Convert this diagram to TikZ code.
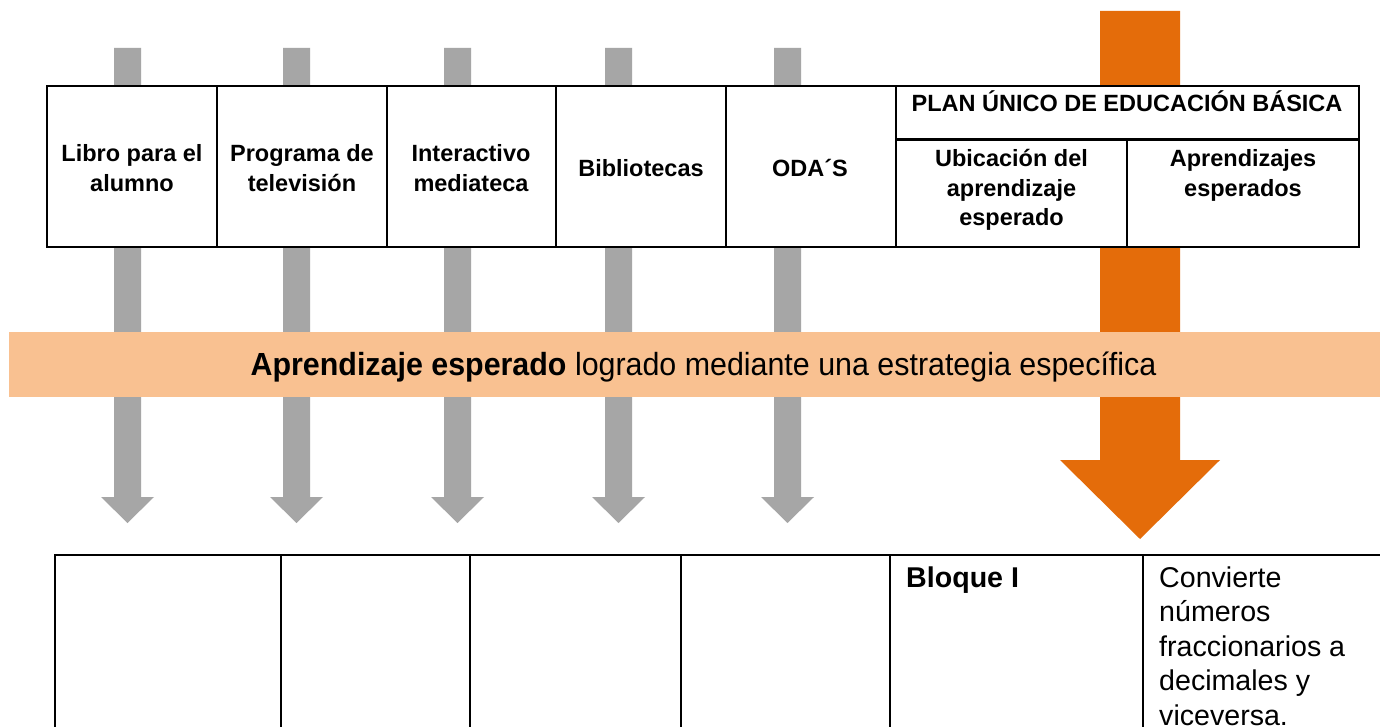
\documentclass[tikz,border=0pt]{standalone}
\usepackage{fontspec}
\setmainfont{Liberation Sans}
\definecolor{arrowgray}{HTML}{A6A6A6}
\definecolor{arroworange}{HTML}{E46C0A}
\definecolor{bandfill}{HTML}{F9C191}
\tikzset{
  grayarrow/.style={fill=arrowgray},
  orangearrow/.style={fill=arroworange},
  tableline/.style={line width=2.5pt, draw=black, line cap=rect},
  hdrtext/.style={font=\fontsize{23.5}{30.5}\selectfont\bfseries, inner sep=0pt, anchor=base},
  subtext/.style={font=\fontsize{23.5}{29.5}\selectfont\bfseries, inner sep=0pt, anchor=base},
  bodytext/.style={font=\fontsize{28.6}{34.5}\selectfont, inner sep=0pt, anchor=base west},
  bandtext/.style={font=\fontsize{32}{38}\selectfont, inner sep=0pt, anchor=base}
}
\begin{document}
\begin{tikzpicture}[x=1pt,y=-1pt]
\useasboundingbox (0,0) rectangle (1380,727);
\fill[white] (0,0) rectangle (1380,727);

% gray arrows
\foreach \c in {127.5,296.5,457.5,618.5,787.5}
  \fill[grayarrow] ({\c-13.5},48) -- ({\c+13.5},48) -- ({\c+13.5},497) -- ({\c+26.5},497)
     -- (\c,523) -- ({\c-26.5},497) -- ({\c-13.5},497) -- cycle;

% orange arrow
\fill[orangearrow] (1100,11) -- (1180,11) -- (1180,460) -- (1220,460) -- (1140,539)
     -- (1060,460) -- (1100,460) -- cycle;

% top table
\filldraw[tableline, fill=white] (47,86) rectangle (1359,247);
\foreach \xx in {217,387,556,726,896}
  \draw[tableline] (\xx,86) -- (\xx,247);
\draw[tableline] (896,139.5) -- (1359,139.5);
\draw[tableline] (1127,139.5) -- (1127,247);

\node[hdrtext] (libro) at (132,161.5) {\begin{tabular}[t]{@{}c@{}}Libro para el\\alumno\end{tabular}};
\node[hdrtext] (programa) at (302,161.5) {\begin{tabular}[t]{@{}c@{}}Programa de\\televisión\end{tabular}};
\node[hdrtext] (interactivo) at (471,161.2) {\begin{tabular}[t]{@{}c@{}}Interactivo\\mediateca\end{tabular}};
\node[hdrtext] (bibliotecas) at (641,177) {Bibliotecas};
\node[hdrtext] (odas) at (810,177) {ODA´S};
\node[hdrtext] (plan) at (1127,111.7) {PLAN ÚNICO DE EDUCACIÓN BÁSICA};
\node[subtext] (ubicacion) at (1011.5,166.7) {\begin{tabular}[t]{@{}c@{}}Ubicación del\\aprendizaje\\esperado\end{tabular}};
\node[subtext] (aprendizajes) at (1243,166.7) {\begin{tabular}[t]{@{}c@{}}Aprendizajes\\esperados\end{tabular}};

% band
\fill[bandfill] (9,332) rectangle (1380,397);
\node[bandtext] (band) at (703.5,375) {\scalebox{0.95}[1]{\textbf{Aprendizaje esperado} logrado mediante una estrategia específica}};

% bottom table
\draw[tableline] (55,555) -- (1380,555);
\foreach \xx in {55,281,470,681,890,1143}
  \draw[tableline, line cap=butt] (\xx,555) -- (\xx,727);

\node[bodytext,font=\fontsize{28.6}{34.5}\selectfont\bfseries] (bloque) at (906,587) {Bloque I};
\node[bodytext] (convierte) at (1159,587) {\begin{tabular}[t]{@{}l@{}}Convierte\\números\\fraccionarios a\\decimales y\\viceversa.\end{tabular}};
\end{tikzpicture}
\end{document}
